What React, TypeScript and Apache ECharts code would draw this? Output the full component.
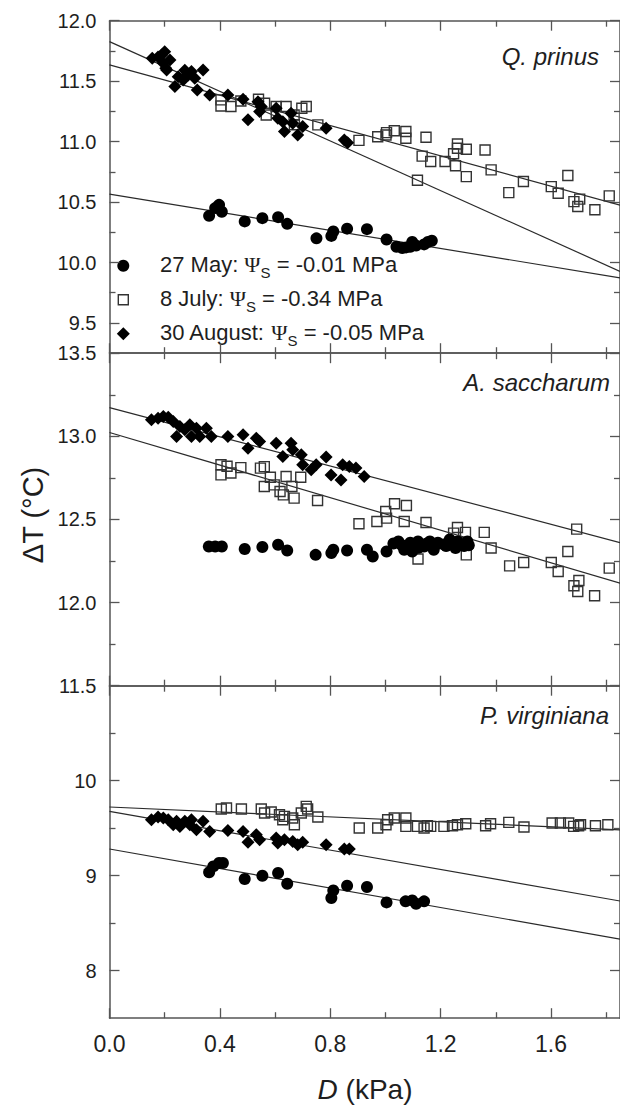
import React, { useEffect, useRef } from "react";
import * as echarts from "echarts";

// ---------- axes / layout values ----------
const X_MAX = 1.85;
const xMajorTicks = [0, 0.4, 0.8, 1.2, 1.6];
const xMinorTicks = [0.2, 0.6, 1.0, 1.4, 1.8];

const panelNames = ["Q. prinus", "A. saccharum", "P. virginiana"];
const yRanges = [
  [9.25, 12.0],
  [11.5, 13.5],
  [7.5, 11.0],
];
const yMajorTicks = [
  [9.5, 10, 10.5, 11, 11.5, 12],
  [11.5, 12, 12.5, 13, 13.5],
  [8, 9, 10],
];
const yMinorTicks = [
  [9.75, 10.25, 10.75, 11.25, 11.75],
  [11.75, 12.25, 12.75, 13.25],
  [8.5, 9.5, 10.5],
];
const yLabelDecimals = [1, 1, 0];

const legendDates = ["27 May", "8 July", "30 August"];
const legendPsi = ["-0.01", "-0.34", "-0.05"];

// ---------- data: [D (kPa), dT (°C)] ----------
// Panel 1: Q. prinus
const qMay = [
  [0.361, 10.386], [0.383, 10.45], [0.397, 10.477], [0.407, 10.42], [0.49, 10.34],
  [0.554, 10.367], [0.611, 10.375], [0.644, 10.32], [0.75, 10.2], [0.804, 10.22],
  [0.811, 10.256], [0.861, 10.28], [0.933, 10.276], [1.004, 10.19], [1.04, 10.13],
  [1.061, 10.12], [1.075, 10.125], [1.09, 10.13], [1.097, 10.17], [1.111, 10.14],
  [1.14, 10.15], [1.154, 10.17], [1.168, 10.18],
];
const qJul = [
  [0.404, 11.345], [0.404, 11.295], [0.44, 11.29], [0.476, 11.336], [0.54, 11.35],
  [0.562, 11.317], [0.568, 11.22], [0.604, 11.29], [0.64, 11.29], [0.669, 11.22],
  [0.697, 11.276], [0.713, 11.29], [0.67, 11.14], [0.755, 11.138], [0.904, 11.01],
  [0.972, 11.04], [1.002, 11.055], [1.004, 11.074], [1.032, 11.09], [1.074, 11.083],
  [1.074, 11.028], [1.116, 10.68], [1.133, 10.88], [1.147, 11.036], [1.164, 10.835],
  [1.216, 10.835], [1.247, 10.9], [1.254, 10.8], [1.261, 10.98], [1.261, 10.945],
  [1.293, 10.937], [1.293, 10.71], [1.361, 10.93], [1.383, 10.766], [1.447, 10.578],
  [1.5, 10.67], [1.601, 10.628], [1.626, 10.573], [1.661, 10.72], [1.683, 10.504],
  [1.697, 10.463], [1.704, 10.524], [1.759, 10.436], [1.811, 10.551],
];
const qAug = [
  [0.155, 11.69], [0.176, 11.7], [0.189, 11.717], [0.2, 11.744], [0.195, 11.648],
  [0.207, 11.593], [0.219, 11.675], [0.204, 11.607], [0.237, 11.455], [0.249, 11.537],
  [0.267, 11.51], [0.273, 11.59], [0.285, 11.55], [0.297, 11.58], [0.309, 11.524],
  [0.318, 11.427], [0.339, 11.593], [0.363, 11.386], [0.429, 11.386], [0.484, 11.35],
  [0.502, 11.18], [0.538, 11.33], [0.544, 11.248], [0.55, 11.29], [0.604, 11.276],
  [0.61, 11.193], [0.628, 11.165], [0.634, 11.083], [0.658, 11.235], [0.664, 11.152],
  [0.682, 11.055], [0.7, 11.124], [0.785, 11.11], [0.851, 11.014], [0.863, 10.99],
];
// Panel 2: A. saccharum
const aMay = [
  [0.36, 12.337], [0.383, 12.337], [0.407, 12.337], [0.49, 12.322], [0.554, 12.334],
  [0.611, 12.348], [0.644, 12.313], [0.747, 12.287], [0.804, 12.298], [0.811, 12.318],
  [0.861, 12.313], [0.933, 12.318], [0.954, 12.277], [1.004, 12.307], [1.029, 12.355],
  [1.047, 12.367], [1.06, 12.345], [1.068, 12.318], [1.09, 12.36], [1.097, 12.307],
  [1.1, 12.34], [1.118, 12.367], [1.12, 12.33], [1.14, 12.337], [1.15, 12.355],
  [1.161, 12.367], [1.175, 12.318], [1.18, 12.345], [1.19, 12.36], [1.211, 12.35],
  [1.22, 12.34], [1.233, 12.38], [1.24, 12.36], [1.254, 12.328], [1.261, 12.367],
  [1.276, 12.35], [1.285, 12.34], [1.297, 12.367], [1.302, 12.345],
];
const aJul = [
  [0.404, 12.829], [0.404, 12.768], [0.426, 12.82], [0.44, 12.779], [0.476, 12.812],
  [0.547, 12.809], [0.561, 12.818], [0.561, 12.698], [0.583, 12.754], [0.597, 12.708],
  [0.618, 12.668], [0.63, 12.648], [0.64, 12.758], [0.661, 12.698], [0.669, 12.628],
  [0.693, 12.754], [0.754, 12.614], [0.904, 12.474], [0.969, 12.488], [1.001, 12.548],
  [1.004, 12.508], [1.033, 12.594], [1.068, 12.488], [1.076, 12.584], [1.147, 12.482],
  [1.118, 12.262], [1.247, 12.418], [1.261, 12.452], [1.29, 12.422], [1.293, 12.287],
  [1.358, 12.422], [1.383, 12.328], [1.45, 12.221], [1.501, 12.241], [1.601, 12.241],
  [1.626, 12.187], [1.661, 12.307], [1.693, 12.442], [1.683, 12.101], [1.701, 12.133],
  [1.697, 12.067], [1.758, 12.041], [1.811, 12.207],
];
const aAug = [
  [0.152, 13.099], [0.176, 13.109], [0.195, 13.119], [0.213, 13.115], [0.231, 13.089],
  [0.243, 12.999], [0.255, 13.059], [0.273, 13.039], [0.291, 13.069], [0.297, 12.999],
  [0.315, 13.049], [0.327, 12.999], [0.351, 13.049], [0.369, 12.999], [0.429, 12.999],
  [0.484, 13.009], [0.502, 12.929], [0.532, 12.989], [0.544, 12.969], [0.604, 12.959],
  [0.628, 12.879], [0.658, 12.959], [0.664, 12.919], [0.695, 12.889], [0.7, 12.829],
  [0.731, 12.799], [0.749, 12.829], [0.785, 12.875], [0.803, 12.768], [0.839, 12.738],
  [0.845, 12.829], [0.869, 12.818], [0.893, 12.809], [0.923, 12.758],
];
// Panel 3: P. virginiana
const pMay = [
  [0.361, 9.035], [0.376, 9.098], [0.397, 9.133], [0.411, 9.133], [0.49, 8.965],
  [0.554, 9.0], [0.611, 9.028], [0.644, 8.916], [0.804, 8.765], [0.811, 8.845],
  [0.861, 8.895], [0.933, 8.881], [1.004, 8.719], [1.073, 8.73], [1.097, 8.74],
  [1.111, 8.705], [1.14, 8.73],
];
const pJul = [
  [0.405, 9.702], [0.424, 9.713], [0.478, 9.702], [0.55, 9.702], [0.562, 9.66],
  [0.586, 9.67], [0.616, 9.642], [0.628, 9.589], [0.634, 9.625], [0.664, 9.607],
  [0.67, 9.537], [0.695, 9.66], [0.713, 9.73], [0.718, 9.702], [0.755, 9.618],
  [0.905, 9.502], [0.972, 9.502], [1.002, 9.537], [1.008, 9.589], [1.032, 9.607],
  [1.074, 9.607], [1.074, 9.519], [1.116, 9.519], [1.14, 9.502], [1.152, 9.526],
  [1.164, 9.519], [1.212, 9.519], [1.243, 9.526], [1.261, 9.537], [1.291, 9.547],
  [1.363, 9.526], [1.381, 9.547], [1.447, 9.561], [1.502, 9.512], [1.604, 9.554],
  [1.634, 9.554], [1.664, 9.554], [1.682, 9.519], [1.7, 9.526], [1.707, 9.537],
  [1.761, 9.526], [1.806, 9.537],
];
const pAug = [
  [0.152, 9.589], [0.176, 9.618], [0.195, 9.607], [0.213, 9.589], [0.231, 9.537],
  [0.243, 9.572], [0.255, 9.519], [0.273, 9.572], [0.291, 9.537], [0.297, 9.589],
  [0.315, 9.484], [0.339, 9.572], [0.363, 9.466], [0.429, 9.477], [0.484, 9.466],
  [0.502, 9.351], [0.532, 9.432], [0.544, 9.379], [0.604, 9.396], [0.61, 9.344],
  [0.634, 9.379], [0.664, 9.361], [0.682, 9.326], [0.7, 9.351], [0.785, 9.326],
  [0.851, 9.281], [0.869, 9.281],
];

const panelData = [
  [qMay, qJul, qAug],
  [aMay, aJul, aAug],
  [pMay, pJul, pAug],
];

// regression lines: dT = a + b * D  (null = no line drawn)
const fitIntercepts = [
  [10.565, 11.634, 11.827],
  [null, 13.023, 13.173],
  [9.281, 9.723, 9.677],
];
const fitSlopes = [
  [-0.374, -0.627, -1.027],
  [null, -0.49, -0.439],
  [-0.513, -0.13, -0.51],
];

// ---------- styling ----------
const FONT = "'Liberation Sans', Arial, Helvetica, sans-serif";
const SERIF = "'Liberation Serif', 'Times New Roman', serif";
const AXIS_COLOR = "#555";
const TEXT_COLOR = "#1e1e1e";
const GRID_LEFT = 109.5;
const GRID_WIDTH = 512;
const GRID_TOPS = [20.7, 353.2, 685.7];
const GRID_HEIGHT = 332.5;
const TITLE_POS = [
  [599, 56],
  [610, 382],
  [609, 715],
];
const SYMBOLS = ["circle", "rect", "diamond"];
const SYMBOL_SIZES = [12, 10, 13];

function buildOption() {
  const grid = GRID_TOPS.map((t) => ({ left: GRID_LEFT, width: GRID_WIDTH, top: t, height: GRID_HEIGHT }));
  const xAxis: any[] = [];
  const yAxis: any[] = [];
  const tickLine = { color: AXIS_COLOR, width: 1.3 };
  for (let i = 0; i < 3; i++) {
    for (const pos of ["bottom", "top"]) {
      const showLabel = i === 2 && pos === "bottom";
      xAxis.push({
        type: "value", gridIndex: i, position: pos, min: 0, max: X_MAX,
        axisLine: { show: true, onZero: false, lineStyle: { color: AXIS_COLOR, width: 1.5 } },
        axisTick: { show: true, inside: true, length: 10, customValues: xMajorTicks, lineStyle: tickLine },
        axisLabel: {
          show: showLabel, customValues: xMajorTicks, fontSize: 23, color: TEXT_COLOR,
          fontFamily: FONT, margin: 14, formatter: (v: number) => v.toFixed(1),
        },
        splitLine: { show: false },
      });
      xAxis.push({
        type: "value", gridIndex: i, position: pos, min: 0, max: X_MAX,
        axisLine: { show: false, onZero: false },
        axisTick: { show: true, inside: true, length: 6, customValues: xMinorTicks, lineStyle: tickLine },
        axisLabel: { show: false },
        splitLine: { show: false },
      });
    }
    for (const pos of ["left", "right"]) {
      const showLabel = pos === "left";
      const dec = yLabelDecimals[i];
      yAxis.push({
        type: "value", gridIndex: i, position: pos, min: yRanges[i][0], max: yRanges[i][1],
        axisLine: { show: true, onZero: false, lineStyle: { color: AXIS_COLOR, width: 1.5 } },
        axisTick: { show: true, inside: true, length: 10, customValues: yMajorTicks[i], lineStyle: tickLine },
        axisLabel: {
          show: showLabel, customValues: yMajorTicks[i], fontSize: 20, color: TEXT_COLOR,
          fontFamily: FONT, margin: 13, formatter: (v: number) => v.toFixed(dec),
        },
        splitLine: { show: false },
      });
      yAxis.push({
        type: "value", gridIndex: i, position: pos, min: yRanges[i][0], max: yRanges[i][1],
        axisLine: { show: false, onZero: false },
        axisTick: { show: true, inside: true, length: 6, customValues: yMinorTicks[i], lineStyle: tickLine },
        axisLabel: { show: false },
        splitLine: { show: false },
      });
    }
  }

  const series: any[] = [];
  for (let i = 0; i < 3; i++) {
    for (let j = 0; j < 3; j++) {
      const a = fitIntercepts[i][j];
      const b = fitSlopes[i][j];
      if (a !== null && b !== null) {
        series.push({
          type: "line", xAxisIndex: 4 * i, yAxisIndex: 4 * i, silent: true,
          symbol: "none", showSymbol: false, clip: true,
          data: [[0, a], [X_MAX, a + b * X_MAX]],
          lineStyle: { color: "#2a2a2a", width: 1.2 },
          z: 1,
        });
      }
    }
    // draw squares first, then diamonds, then circles
    for (const j of [1, 2, 0]) {
      const isOpen = j === 1;
      series.push({
        type: "scatter", name: legendDates[j], xAxisIndex: 4 * i, yAxisIndex: 4 * i, silent: true,
        symbol: SYMBOLS[j], symbolSize: SYMBOL_SIZES[j],
        data: panelData[i][j],
        itemStyle: isOpen
          ? { color: "rgba(0,0,0,0)", borderColor: "#333", borderWidth: 1.4, opacity: 1 }
          : { color: "#000", opacity: 1 },
        z: 3,
      });
    }
  }

  const graphic: any[] = [];
  panelNames.forEach((name, i) => {
    graphic.push({
      type: "text", x: TITLE_POS[i][0], y: TITLE_POS[i][1],
      style: {
        text: name, fontSize: 24, fontStyle: "italic", fontFamily: FONT, fill: TEXT_COLOR,
        align: "right", verticalAlign: "middle",
      },
    });
  });

  // legend (inside panel 1)
  const legendX = 123.3;
  const legendY = [265.7, 299.8, 333.8];
  graphic.push({ type: "circle", shape: { cx: legendX, cy: legendY[0], r: 6 }, style: { fill: "#000" } });
  graphic.push({
    type: "rect", shape: { x: legendX - 5, y: legendY[1] - 5, width: 10, height: 10 },
    style: { fill: "none", stroke: "#333", lineWidth: 1.4 },
  });
  graphic.push({
    type: "polygon",
    shape: { points: [[legendX, legendY[2] - 6.5], [legendX + 6.5, legendY[2]], [legendX, legendY[2] + 6.5], [legendX - 6.5, legendY[2]]] },
    style: { fill: "#000" },
  });
  legendDates.forEach((d, j) => {
    graphic.push({
      type: "text", x: 160, y: legendY[j] - 1,
      style: {
        text: `{a|${d}: }{psi|Ψ}{sub|S}{a| = ${legendPsi[j]} MPa}`,
        align: "left", verticalAlign: "middle", fill: TEXT_COLOR,
        rich: {
          a: { fontSize: 22, fontFamily: FONT, lineHeight: 30, fill: TEXT_COLOR },
          psi: { fontSize: 22, fontFamily: SERIF, lineHeight: 30, fill: TEXT_COLOR },
          sub: { fontSize: 15, fontFamily: FONT, lineHeight: 30, verticalAlign: "bottom", fill: TEXT_COLOR },
        },
      },
    });
  });

  // axis names
  graphic.push({
    type: "text", x: 33, y: 515, rotation: Math.PI / 2,
    style: {
      text: "ΔT (°C)", fontSize: 29, fontFamily: FONT, fill: TEXT_COLOR,
      align: "center", verticalAlign: "middle",
    },
  });
  graphic.push({
    type: "text", x: 365, y: 1089,
    style: {
      text: "{i|D}{n| (kPa)}", align: "center", verticalAlign: "middle", fill: TEXT_COLOR,
      rich: {
        i: { fontSize: 28, fontStyle: "italic", fontFamily: FONT, fill: TEXT_COLOR },
        n: { fontSize: 28, fontFamily: FONT, fill: TEXT_COLOR },
      },
    },
  });

  return {
    animation: false,
    backgroundColor: "#fff",
    grid,
    xAxis,
    yAxis,
    series,
    graphic,
  };
}

export default function App() {
  const ref = useRef<HTMLDivElement>(null);
  useEffect(() => {
    if (!ref.current) return;
    const chart = echarts.init(ref.current, null, { renderer: "svg" });
    chart.setOption(buildOption() as any);
    return () => chart.dispose();
  }, []);
  return (
    <div
      ref={ref}
      style={{ position: "absolute", left: 0, top: 0, width: 620, height: 1109, background: "#fff" }}
    />
  );
}
